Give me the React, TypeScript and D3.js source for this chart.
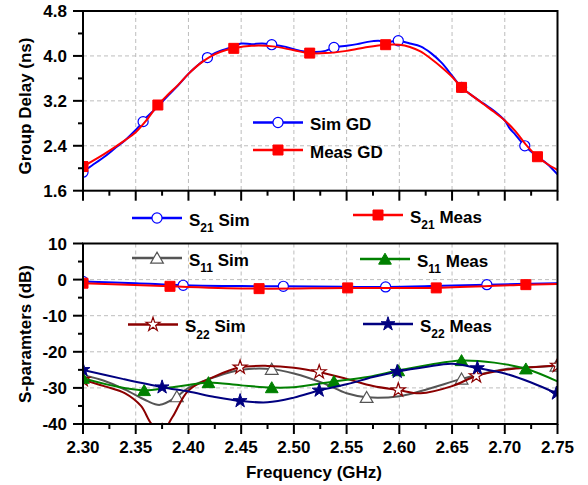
import React from 'react';
import * as d3 from 'd3';

// ---------- data ----------
const xTicks = [2.3, 2.35, 2.4, 2.45, 2.5, 2.55, 2.6, 2.65, 2.7, 2.75];
const gdTicks = [1.6, 2.4, 3.2, 4.0, 4.8];
const sTicks = [10, 0, -10, -20, -30, -40];

const simGD: [number, number][] = [
  [2.30, 1.93], [2.31, 2.07], [2.32, 2.2], [2.33, 2.35], [2.34, 2.5], [2.35, 2.68], [2.357, 2.83],
  [2.36, 2.9], [2.37, 3.08], [2.38, 3.28], [2.39, 3.47], [2.40, 3.68], [2.41, 3.85], [2.418, 3.97],
  [2.425, 4.05], [2.43, 4.09], [2.44, 4.15], [2.45, 4.22], [2.46, 4.21], [2.47, 4.22], [2.479, 4.2],
  [2.49, 4.17], [2.50, 4.12], [2.51, 4.08], [2.52, 4.07], [2.53, 4.09], [2.538, 4.15], [2.55, 4.18],
  [2.56, 4.21], [2.57, 4.25], [2.58, 4.27], [2.59, 4.25], [2.599, 4.27], [2.61, 4.22], [2.62, 4.17],
  [2.63, 4.05], [2.64, 3.88], [2.65, 3.65], [2.659, 3.44], [2.67, 3.28], [2.68, 3.15], [2.69, 3.02],
  [2.70, 2.85], [2.705, 2.7], [2.71, 2.6], [2.719, 2.4], [2.73, 2.22], [2.74, 2.08], [2.75, 1.89],
];
const simGDMarkers = [2.30, 2.357, 2.418, 2.479, 2.538, 2.599, 2.659, 2.719];

const measGD: [number, number][] = [
  [2.30, 2.03], [2.32, 2.25], [2.34, 2.5], [2.35, 2.64], [2.36, 2.85], [2.371, 3.126], [2.38, 3.3],
  [2.39, 3.48], [2.40, 3.68], [2.41, 3.85], [2.42, 3.98], [2.43, 4.07], [2.443, 4.135], [2.46, 4.18],
  [2.48, 4.17], [2.50, 4.1], [2.515, 4.05], [2.53, 4.05], [2.55, 4.09], [2.57, 4.16], [2.587, 4.2],
  [2.60, 4.2], [2.61, 4.16], [2.62, 4.08], [2.63, 3.95], [2.64, 3.8], [2.65, 3.63], [2.659, 3.44],
  [2.67, 3.28], [2.68, 3.14], [2.69, 3.0], [2.70, 2.85], [2.71, 2.66], [2.72, 2.42], [2.731, 2.205],
  [2.74, 2.08], [2.75, 1.97],
];
const measGDMarkers = [2.30, 2.371, 2.443, 2.515, 2.587, 2.659, 2.731];

const s21Sim: [number, number][] = [
  [2.30, -0.5], [2.35, -1.0], [2.395, -1.58], [2.45, -1.8], [2.49, -1.86], [2.55, -2.0],
  [2.587, -2.03], [2.63, -1.8], [2.683, -1.4], [2.75, -1.0],
];
const s21SimMarkers = [2.30, 2.395, 2.49, 2.587, 2.683];

const s21Meas: [number, number][] = [
  [2.30, -1.0], [2.3825, -1.86], [2.467, -2.5], [2.551, -2.3], [2.635, -2.3], [2.72, -1.4], [2.75, -1.2],
];
const s21MeasMarkers = [2.30, 2.3825, 2.467, 2.551, 2.635, 2.72];

const s11Sim: [number, number][] = [
  [2.30, -26.5], [2.32, -28], [2.34, -30.5], [2.36, -33.5], [2.373, -34.7], [2.389, -32.4],
  [2.40, -30], [2.425, -27], [2.45, -25], [2.479, -24.8], [2.50, -26], [2.528, -28.7], [2.55, -31.5],
  [2.569, -32.6], [2.60, -32.3], [2.625, -30.5], [2.659, -27.5], [2.68, -26], [2.70, -24.8],
  [2.749, -23.9],
];
const s11SimMarkers = [2.30, 2.389, 2.479, 2.569, 2.659, 2.749];

const s11Meas: [number, number][] = [
  [2.30, -27.3], [2.33, -29.5], [2.358, -30.7], [2.38, -30], [2.40, -29.2], [2.419, -28.5],
  [2.45, -29.3], [2.479, -29.9], [2.50, -29.8], [2.538, -28.2], [2.57, -27], [2.599, -25.2],
  [2.63, -23.5], [2.659, -22.4], [2.69, -23], [2.72, -24.7], [2.75, -28.2],
];
const s11MeasMarkers = [2.30, 2.358, 2.419, 2.479, 2.538, 2.599, 2.659, 2.72];

const s22Sim: [number, number][] = [
  [2.30, -27.7], [2.32, -29.5], [2.34, -31.5], [2.355, -35], [2.365, -40], [2.375, -42],
  [2.385, -38], [2.40, -30.7], [2.425, -26.8], [2.449, -24.3], [2.475, -23.9], [2.50, -24.4],
  [2.524, -25.6], [2.55, -27.5], [2.575, -29.5], [2.599, -30.6], [2.62, -31.5], [2.65, -29.5],
  [2.673, -26.7], [2.70, -25], [2.725, -24.3], [2.75, -23.8],
];
const s22SimMarkers = [2.30, 2.375, 2.449, 2.524, 2.599, 2.673, 2.75];

const s22Meas: [number, number][] = [
  [2.30, -25], [2.3375, -27.5], [2.375, -29.8], [2.40, -31], [2.425, -32.5], [2.449, -33.6],
  [2.475, -34], [2.50, -32.7], [2.524, -30.7], [2.55, -29], [2.575, -27], [2.598, -25.5],
  [2.625, -24.2], [2.65, -23.3], [2.674, -24.5], [2.70, -26], [2.725, -28.5], [2.749, -31.5],
];
const s22MeasMarkers = [2.30, 2.375, 2.449, 2.524, 2.598, 2.674, 2.749];

// ---------- layout ----------
const W = 588, H = 485;
const X0 = 83, X1 = 557.5;
const TOPY0 = 11, TOPY1 = 190.7;
const BOTY0 = 243.5, BOTY1 = 424;
const FONT = '"Liberation Sans", Arial, Helvetica, sans-serif';

const x = d3.scaleLinear().domain([2.3, 2.75]).range([X0, X1]);
const yGD = d3.scaleLinear().domain([1.6, 4.8]).range([TOPY1, TOPY0]);
const yS = d3.scaleLinear().domain([-40, 10]).range([BOTY1, BOTY0]);

const BLUE = '#0000ff', RED = '#ff0000', GRAY = '#555555', GREEN = '#008000', DRED = '#8b0000', NAVY = '#000080';

type Shape = 'circle' | 'square' | 'triangle' | 'star';
const symType: Record<Shape, d3.SymbolType> = {
  circle: d3.symbolCircle, square: d3.symbolSquare, triangle: d3.symbolTriangle, star: d3.symbolStar,
};
const symSize: Record<Shape, number> = { circle: 80, square: 100, triangle: 70, star: 60 };

function Marker({ cx, cy, shape, color, filled }: { cx: number; cy: number; shape: Shape; color: string; filled: boolean }) {
  const p = d3.symbol().type(symType[shape]).size(symSize[shape])() || '';
  const dy = shape === 'triangle' ? 1.5 : 0;
  return (
    <path d={p} transform={`translate(${cx},${cy + dy})`} fill={filled ? color : '#fff'} stroke={color} strokeWidth={filled ? 1 : 1.2} />
  );
}

function valAt(series: [number, number][], f: number) {
  let best = series[0];
  for (const d of series) if (Math.abs(d[0] - f) < Math.abs(best[0] - f)) best = d;
  return best[1];
}

function Series({ data, markers, y, color, shape, filled, clip }: any) {
  const line = d3.line<[number, number]>().x((d) => x(d[0])).y((d) => y(d[1])).curve(d3.curveCatmullRom.alpha(0.5));
  return (
    <g clipPath={`url(#${clip})`}>
      <path d={line(data) || ''} fill="none" stroke={color} strokeWidth={2} />
      {markers.map((f: number, i: number) => (
        <Marker key={i} cx={x(f)} cy={y(valAt(data, f))} shape={shape} color={color} filled={filled} />
      ))}
    </g>
  );
}

function LegendItem({ x0, y, color, shape, filled, main, sub, rest }: any) {
  return (
    <g>
      <line x1={x0} x2={x0 + 50} y1={y} y2={y} stroke={color} strokeWidth={2.6} />
      <Marker cx={x0 + 25} cy={y} shape={shape} color={color} filled={filled} />
      <text x={x0 + 57} y={y + 7.5} fontFamily={FONT} fontWeight="bold" fontSize={17} fill="#000">
        {main}
        {sub ? <tspan fontSize={12} dy={6.5}>{sub}</tspan> : null}
        {sub ? <tspan dy={-6.5}>{'\u00a0' + rest}</tspan> : null}
      </text>
    </g>
  );
}

export default function App() {
  const minorX = d3.range(0, 19).map((i) => 2.3 + i * 0.025);
  const minorGD = d3.range(0, 9).map((i) => 1.6 + i * 0.4);
  const minorS = d3.range(0, 11).map((i) => -40 + i * 5);
  const gridX = xTicks.slice(1, -1);
  const tickLbl = { fontFamily: FONT, fontWeight: 'bold' as const, fontSize: 17, fill: '#000' };
  return (
    <svg width={W} height={H} style={{ position: 'absolute', left: 0, top: 0, background: '#fff' }}>
      <defs>
        <clipPath id="clipTop"><rect x={X0} y={TOPY0} width={X1 - X0} height={TOPY1 - TOPY0} /></clipPath>
        <clipPath id="clipBot"><rect x={X0} y={BOTY0} width={X1 - X0} height={BOTY1 - BOTY0} /></clipPath>
      </defs>
      <rect x={0} y={0} width={W} height={H} fill="#fff" />

      {/* grids */}
      <g stroke="#bdbdbd" strokeWidth={1} strokeDasharray="4,3">
        {gridX.map((f) => <line key={'gt' + f} x1={x(f)} x2={x(f)} y1={TOPY0} y2={TOPY1} />)}
        {gdTicks.slice(1, -1).map((v) => <line key={'gh' + v} x1={X0} x2={X1} y1={yGD(v)} y2={yGD(v)} />)}
        {gridX.map((f) => <line key={'gb' + f} x1={x(f)} x2={x(f)} y1={BOTY0} y2={BOTY1} />)}
        {sTicks.slice(1, -1).map((v) => <line key={'sh' + v} x1={X0} x2={X1} y1={yS(v)} y2={yS(v)} />)}
      </g>

      {/* top panel data */}
      <Series data={simGD} markers={simGDMarkers} y={yGD} color={BLUE} shape="circle" filled={false} clip="clipTop" />
      <Series data={measGD} markers={measGDMarkers} y={yGD} color={RED} shape="square" filled={true} clip="clipTop" />

      {/* bottom panel data */}
      <Series data={s11Sim} markers={s11SimMarkers} y={yS} color={GRAY} shape="triangle" filled={false} clip="clipBot" />
      <Series data={s22Sim} markers={s22SimMarkers} y={yS} color={DRED} shape="star" filled={false} clip="clipBot" />
      <Series data={s11Meas} markers={s11MeasMarkers} y={yS} color={GREEN} shape="triangle" filled={true} clip="clipBot" />
      <Series data={s22Meas} markers={s22MeasMarkers} y={yS} color={NAVY} shape="star" filled={true} clip="clipBot" />
      <Series data={s21Sim} markers={s21SimMarkers} y={yS} color={BLUE} shape="circle" filled={false} clip="clipBot" />
      <Series data={s21Meas} markers={s21MeasMarkers} y={yS} color={RED} shape="square" filled={true} clip="clipBot" />

      {/* frames */}
      <rect x={X0} y={TOPY0} width={X1 - X0} height={TOPY1 - TOPY0} fill="none" stroke="#000" strokeWidth={2} />
      <rect x={X0} y={BOTY0} width={X1 - X0} height={BOTY1 - BOTY0} fill="none" stroke="#000" strokeWidth={2} />

      {/* ticks */}
      <g stroke="#000" strokeWidth={2}>
        {minorX.map((f, i) => (
          <line key={'tx' + i} x1={x(f)} x2={x(f)} y1={TOPY1} y2={TOPY1 + (i % 2 === 0 ? 10 : 5)} />
        ))}
        {minorX.map((f, i) => (
          <line key={'bx' + i} x1={x(f)} x2={x(f)} y1={BOTY1} y2={BOTY1 + (i % 2 === 0 ? 10 : 5)} />
        ))}
        {minorGD.map((v, i) => (
          <line key={'ty' + i} x1={X0 - (i % 2 === 0 ? 10 : 5)} x2={X0} y1={yGD(v)} y2={yGD(v)} />
        ))}
        {minorS.map((v, i) => (
          <line key={'by' + i} x1={X0 - (i % 2 === 0 ? 10 : 5)} x2={X0} y1={yS(v)} y2={yS(v)} />
        ))}
      </g>

      {/* tick labels */}
      {gdTicks.map((v) => (
        <text key={'lg' + v} x={67} y={yGD(v) + 6} textAnchor="end" {...tickLbl}>{v.toFixed(1)}</text>
      ))}
      {sTicks.map((v) => (
        <text key={'ls' + v} x={67} y={yS(v) + 6} textAnchor="end" {...tickLbl}>{v}</text>
      ))}
      {xTicks.map((f) => (
        <text key={'lx' + f} x={x(f)} y={452.5} textAnchor="middle" {...tickLbl}>{f.toFixed(2)}</text>
      ))}

      {/* axis titles */}
      <text x={314} y={478} textAnchor="middle" {...tickLbl}>Frequency (GHz)</text>
      <text transform={`translate(31,106) rotate(-90)`} textAnchor="middle" {...tickLbl}>Group Delay (ns)</text>
      <text transform={`translate(31,334) rotate(-90)`} textAnchor="middle" {...tickLbl}>S-paramters (dB)</text>

      {/* legends */}
      <LegendItem x0={253} y={122.5} color={BLUE} shape="circle" filled={false} main="Sim GD" />
      <LegendItem x0={253} y={150} color={RED} shape="square" filled={true} main="Meas GD" />
      <LegendItem x0={132} y={218} color={BLUE} shape="circle" filled={false} main="S" sub="21" rest="Sim" />
      <LegendItem x0={353} y={215} color={RED} shape="square" filled={true} main="S" sub="21" rest="Meas" />
      <LegendItem x0={132} y={258} color={GRAY} shape="triangle" filled={false} main="S" sub="11" rest="Sim" />
      <LegendItem x0={360} y={259} color={GREEN} shape="triangle" filled={true} main="S" sub="11" rest="Meas" />
      <LegendItem x0={128} y={324.5} color={DRED} shape="star" filled={false} main="S" sub="22" rest="Sim" />
      <LegendItem x0={363} y={324} color={NAVY} shape="star" filled={true} main="S" sub="22" rest="Meas" />
    </svg>
  );
}
